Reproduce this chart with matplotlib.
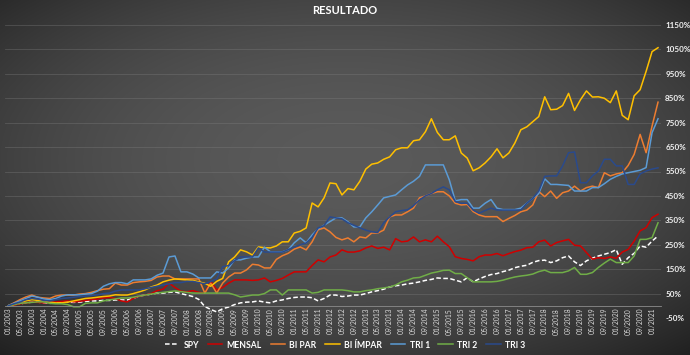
import numpy as np
import pandas as pd
import matplotlib
matplotlib.use('Agg')
import matplotlib.pyplot as plt
from matplotlib.ticker import FuncFormatter, FixedLocator

plt.rcParams['font.family'] = ['Lato', 'DejaVu Sans']

# ── Dados (amostras bimestrais, % acumulado) ─────────────────────────────────
DATES = pd.date_range('2003-01-01', '2021-03-01', freq='2MS')
TICK_DATES = pd.date_range('2003-01-01', '2021-01-01', freq='4MS')

SPY = [0, 5, 8, 12, 15, 15, 12, 10, 12, 14,
       15, 14, 15, 18, 20, 20, 22, 22, 24, 24,
       24, 30, 40, 44, 48, 52, 52, 55, 57, 50,
       44, 38, 26, -3, -15, -25, -12, -5, 5, 12,
       15, 16, 20, 15, 12, 20, 24, 30, 34, 36,
       36, 33, 20, 30, 44, 44, 38, 40, 44, 44,
       50, 57, 62, 68, 77, 82, 85, 90, 93, 98,
       104, 108, 114, 112, 112, 105, 98, 115, 98, 110,
       120, 128, 132, 140, 146, 156, 162, 166, 178, 185,
       187, 177, 184, 197, 204, 180, 165, 184, 195, 204,
       211, 218, 230, 170, 197, 215, 245, 240, 265, 286]

MENSAL = [0, 3, 8, 12, 15, 14, 12, 14, 16, 18,
          20, 16, 18, 22, 25, 28, 32, 34, 30, 20,
          16, 30, 40, 44, 50, 62, 68, 93, 75, 60,
          57, 62, 55, 52, 100, 65, 75, 93, 106, 106,
          106, 104, 106, 114, 98, 104, 112, 126, 139, 139,
          139, 165, 188, 180, 200, 208, 229, 220, 220, 225,
          237, 245, 235, 240, 229, 275, 262, 265, 282, 262,
          270, 262, 285, 262, 242, 201, 194, 190, 184, 201,
          208, 208, 214, 205, 214, 222, 228, 238, 240, 262,
          269, 245, 259, 266, 272, 248, 245, 218, 191, 197,
          194, 200, 195, 220, 231, 265, 307, 320, 361, 375]

BI_PAR = [0, 12, 25, 36, 44, 35, 32, 30, 40, 44,
          44, 44, 48, 50, 55, 62, 68, 70, 93, 85,
          85, 95, 98, 100, 104, 118, 122, 122, 110, 110,
          110, 110, 110, 52, 93, 52, 93, 118, 134, 134,
          147, 170, 167, 155, 155, 190, 205, 215, 232, 241,
          229, 262, 311, 319, 303, 280, 270, 278, 262, 282,
          278, 298, 298, 310, 364, 372, 372, 385, 400, 442,
          450, 460, 467, 467, 450, 420, 413, 415, 386, 372,
          365, 365, 365, 345, 358, 370, 385, 392, 413, 468,
          447, 470, 440, 463, 470, 490, 470, 484, 490, 484,
          545, 532, 540, 545, 575, 620, 702, 627, 736, 834]

BI_IMPAR = [0, 5, 15, 20, 25, 22, 18, 15, 12, 12,
            15, 20, 25, 30, 32, 35, 38, 40, 45, 44,
            44, 50, 57, 65, 77, 85, 98, 105, 110, 108,
            106, 104, 98, 92, 80, 100, 112, 180, 200, 229,
            221, 208, 241, 238, 237, 245, 262, 262, 298, 305,
            319, 421, 405, 442, 503, 500, 454, 480, 475, 510,
            560, 580, 585, 600, 610, 639, 647, 647, 676, 680,
            713, 766, 710, 680, 680, 696, 626, 605, 553, 565,
            585, 610, 643, 606, 626, 667, 721, 733, 754, 775,
            856, 803, 805, 820, 870, 800, 844, 880, 855, 856,
            850, 832, 880, 780, 762, 860, 885, 960, 1041, 1057]

TRI_1 = [0, 10, 20, 30, 40, 35, 28, 25, 30, 40,
         45, 45, 45, 48, 50, 60, 80, 90, 95, 95,
         90, 106, 106, 106, 110, 125, 134, 200, 204, 139,
         139, 130, 114, 114, 114, 139, 134, 155, 188, 188,
         195, 200, 200, 240, 221, 221, 221, 229, 258, 278,
         258, 290, 315, 330, 345, 360, 360, 344, 323, 323,
         360, 385, 413, 442, 448, 454, 475, 495, 510, 530,
         577, 577, 577, 577, 516, 430, 435, 435, 400, 400,
         420, 435, 400, 394, 394, 394, 400, 420, 440, 460,
         520, 497, 497, 495, 493, 470, 470, 470, 484, 484,
         500, 518, 530, 540, 545, 550, 555, 566, 709, 766]

TRI_2 = [0, 5, 10, 12, 14, 16, 16, 10, 8, 8,
         5, -4, -4, 10, 12, 12, 20, 24, 28, 32,
         32, 35, 40, 44, 48, 52, 55, 58, 61, 58,
         55, 52, 52, 52, 52, 52, 52, 52, 45, 36,
         40, 44, 44, 50, 65, 65, 44, 65, 65, 65,
         65, 52, 55, 65, 65, 65, 65, 62, 57, 57,
         62, 65, 70, 73, 77, 85, 98, 105, 114, 116,
         125, 134, 139, 145, 146, 132, 132, 115, 98, 98,
         98, 98, 100, 105, 112, 118, 122, 125, 130, 140,
         146, 136, 136, 136, 143, 157, 129, 129, 136, 157,
         175, 191, 177, 177, 177, 204, 272, 272, 279, 340]

TRI_3 = [0, 8, 15, 25, 30, 28, 22, 20, 25, 30,
         32, 35, 38, 40, 42, 45, 50, 52, 60, 65,
         65, 65, 65, 70, 75, 80, 85, 90, 95, 95,
         100, 100, 95, 90, 100, 110, 160, 165, 185, 200,
         200, 200, 237, 220, 220, 220, 220, 230, 241, 250,
         257, 280, 319, 328, 364, 360, 356, 340, 330, 319,
         310, 303, 300, 340, 364, 385, 390, 393, 410, 434,
         450, 460, 475, 487, 475, 427, 420, 420, 392, 379,
         390, 400, 392, 392, 392, 392, 392, 420, 440, 470,
         530, 532, 532, 573, 627, 630, 504, 504, 532, 552,
         600, 600, 573, 573, 497, 497, 540, 552, 560, 565]

SERIES = [
    ('SPY', SPY, '#FFFFFF', '--'),
    ('MENSAL', MENSAL, '#D00000', '-'),
    ('BI PAR', BI_PAR, '#ED7D31', '-'),
    ('BI ÍMPAR', BI_IMPAR, '#FFC000', '-'),
    ('TRI 1', TRI_1, '#5B9BD5', '-'),
    ('TRI 2', TRI_2, '#70AD47', '-'),
    ('TRI 3', TRI_3, '#2A4A8C', '-'),
]


def month_index(d):
    return (d.year - 2003) * 12 + d.month - 1


x = np.array([month_index(d) for d in DATES])
tick_x = [month_index(d) for d in TICK_DATES]
tick_labels = [d.strftime('%m/%Y') for d in TICK_DATES]

fig = plt.figure(figsize=(6.9, 3.55), dpi=100)

# ── Fundo com gradiente radial ───────────────────────────────────────────────
bg = fig.add_axes([0, 0, 1, 1], zorder=-10)
gy, gx = np.mgrid[0:1:355j, 0:1:690j]
r = np.sqrt(((gx - 0.5) / 0.5) ** 2 + ((gy - 0.45) / 0.5) ** 2) / np.sqrt(2)
lvl = np.clip(90 - 52 * r ** 2, 30, 92) / 255.0
bg.imshow(np.dstack([lvl, lvl, lvl]), aspect='auto', extent=[0, 1, 0, 1])
bg.axis('off')

ax = fig.add_axes([5 / 690, 37 / 355, 656 / 690, 293 / 355])
ax.patch.set_alpha(0)

# spine d'abord (set_position reinitialise les ticks)
for s in ['top', 'right', 'left']:
    ax.spines[s].set_visible(False)
ax.spines['bottom'].set_position(('data', 0))
ax.spines['bottom'].set_color('#8C8C8C')
ax.spines['bottom'].set_linewidth(0.6)

for name, vals, c, ls in SERIES:
    if ls == '--':
        ax.plot(x, vals, color=c, linestyle=(0, (3, 1.6)), linewidth=1.1, label=name)
    else:
        ax.plot(x, vals, color=c, linewidth=1.1, label=name)

ax.set_xlim(-1, 219)
ax.set_ylim(-50, 1150)
ax.yaxis.set_major_locator(FixedLocator(np.arange(-50, 1151, 100)))
ax.yaxis.set_major_formatter(FuncFormatter(lambda v, p: f'{v:.0f}%'))
ax.yaxis.tick_right()
ax.tick_params(axis='y', length=0, pad=3, labelsize=5.8, labelcolor='#F2F2F2')
for t in ax.get_yticklabels():
    t.set_fontweight('bold')
ax.grid(axis='y', color='#808080', alpha=0.4, linewidth=0.6)

ax.set_xticks(tick_x)
ax.set_xticklabels(tick_labels, rotation=90, fontsize=4.9, color='#D9D9D9')
ax.tick_params(axis='x', length=0, pad=1.5)

fig.text(0.5, 1 - 10 / 355, 'RESULTADO', ha='center', va='center',
         fontsize=8, fontweight='bold', color='white')

leg = fig.legend(loc='center', bbox_to_anchor=(0.5, 10 / 355), ncol=7, frameon=False,
                 fontsize=6.2, handlelength=1.7, handletextpad=0.5, columnspacing=1.0)
for t in leg.get_texts():
    t.set_color('white')
    t.set_fontweight('bold')

fig.savefig('out.png', dpi=100)
